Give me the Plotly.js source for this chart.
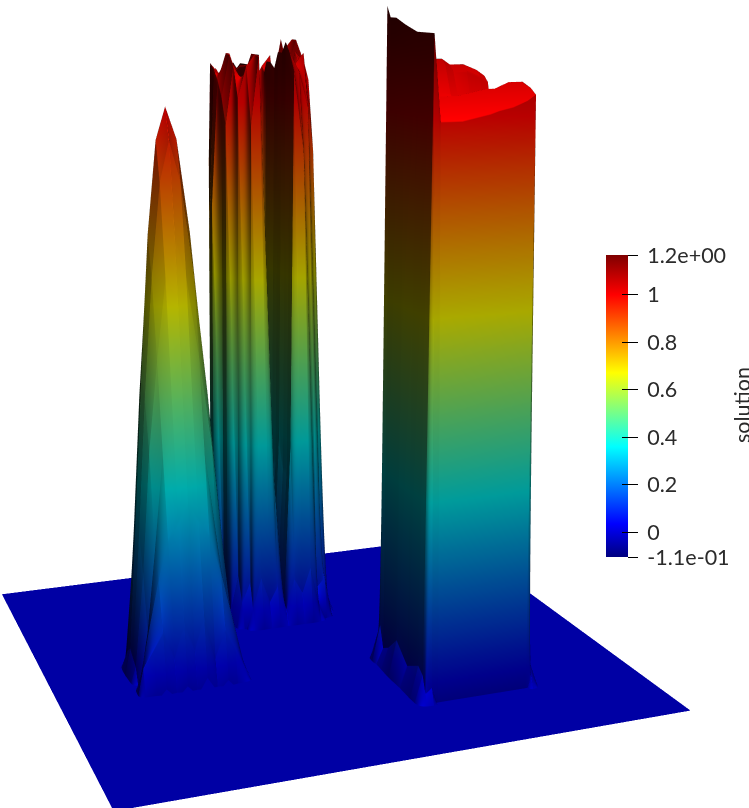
<!DOCTYPE html>
<html>
<head>
<meta charset="utf-8">
<script src="https://cdn.plot.ly/plotly-3.0.1.min.js"></script>
<style>
html,body{margin:0;padding:0;background:#fff;width:749px;height:808px;overflow:hidden}
#wrap{position:absolute;left:0;top:0;width:749px;height:808px;overflow:hidden}
#plot{position:absolute;left:-338px;top:-309px;width:1426px;height:1426px}
</style>
</head>
<body>
<div id="wrap"><div id="plot"></div></div>
<script>
const planeX = [0, 1];
const planeY = [0, 1];
const planeZ = [[0, 0], [0, 0]];

const coneX = [.134,.147,.166,.184,.203,.222,.24,.258,.277,.296,.314,.333,.346];
const coneY = [.39,.403,.423,.442,.461,.481,.50,.519,.539,.558,.577,.597,.61];
const coneZ = [
[-.01,-.01,-.01,.01,-.01,.01,-.01,.02,-.01,.01,-.01,-.01,-.01],
[-.01,.05,.08,.11,.06,.12,.07,.13,.05,.10,.06,.02,-.01],
[-.01,.03,.12,.20,.27,.30,.33,.30,.27,.20,.12,.03,-.01],
[-.01,-.01,.10,.25,.42,.51,.55,.51,.42,.25,.10,-.01,-.01],
[-.01,.03,.20,.42,.58,.72,.79,.72,.58,.42,.20,.02,-.01],
[-.01,.04,.27,.51,.72,.88,.95,.88,.72,.51,.27,.03,-.01],
[-.01,.05,.30,.55,.79,.95,1.005,.95,.79,.55,.30,.05,-.01],
[-.01,.04,.27,.51,.72,.88,.95,.88,.72,.51,.27,.03,-.01],
[-.01,.02,.20,.42,.58,.72,.79,.72,.58,.42,.20,.02,-.01],
[-.01,-.01,.06,.25,.42,.51,.55,.51,.42,.25,.06,-.01,-.01],
[-.01,-.01,.02,.06,.20,.27,.30,.27,.20,.06,.02,-.01,-.01],
[-.01,-.01,-.01,-.01,-.01,.03,.05,.03,-.01,-.01,-.01,-.01,-.01],
[-.01,-.01,-.01,-.01,-.01,-.01,-.01,-.01,-.01,-.01,-.01,-.01,-.01]
];

const cylX = [.372,.386,.402,.419,.436,.453,.469,.486,.503,.519,.536,.553,.57,.586,.60];
const cylY = [.619,.635,.65,.673,.696,.719,.742,.765,.788,.812,.827,.842,.858,.869,.881];
const cylZ = [
[-.01,-.01,-.01,-.01,-.01,-.01,-.01,-.01,-.01,-.01,-.01,-.01,-.01,-.01,-.01],
[-.01,-.01,-.01,.04,.10,.05,.08,.03,.09,.06,.11,.03,-.01,-.01,-.01],
[-.01,-.01,.05,.09,.95,1.08,.30,.02,.35,1.05,.90,.06,.08,-.01,-.01],
[-.01,.03,.10,1.00,1.06,1.08,.25,.03,.30,1.08,1.05,.98,.10,.02,-.01],
[-.01,.05,.95,1.06,1.03,1.08,.20,.02,.30,1.10,1.06,1.08,.90,.05,-.01],
[-.01,.07,1.00,1.08,1.00,1.06,.25,.03,.35,1.08,1.05,1.06,1.03,.08,-.01],
[-.01,.80,1.03,1.08,.88,1.06,.20,.02,.30,1.08,1.03,1.08,1.06,.75,-.01],
[-.01,.75,1.05,1.02,.82,1.06,.25,.03,.30,1.05,1.00,1.03,1.08,.70,-.01],
[-.01,.05,1.06,1.04,.95,1.05,.30,.02,.35,1.06,1.02,1.05,1.10,.06,-.01],
[-.01,.02,.88,1.05,.85,1.06,.35,.05,.40,1.06,1.00,1.08,1.10,.03,-.01],
[-.01,-.01,.10,1.00,.85,1.03,.85,.65,.85,1.04,1.02,1.10,.10,-.01,-.01],
[-.01,-.01,-.01,.06,.85,1.00,1.03,1.00,1.02,1.05,1.07,.05,-.01,-.01,-.01],
[-.01,-.01,-.01,-.01,.03,.88,.98,1.00,.98,.96,.03,-.01,-.01,-.01,-.01],
[-.01,-.01,-.01,-.01,-.01,-.01,.82,.88,.82,-.01,-.01,-.01,-.01,-.01,-.01],
[-.01,-.01,-.01,-.01,-.01,-.01,-.01,-.01,-.01,-.01,-.01,-.01,-.01,-.01,-.01]
];

const blockX = [.57,.588,.60,.612,.65,.70,.715,.74,.765,.78,.79,.81];
const blockY = [.175,.188,.20,.22,.27,.32,.36,.385,.40,.412,.43];
const blockZ = [
[-.01,-.01,-.01,-.01,-.01,-.01,-.01,-.01,-.01,-.01,-.01,-.01],
[-.01,.02,.03,-.01,-.01,-.01,-.01,-.01,-.01,-.01,.02,-.01],
[-.01,.05,1.13,.99,.99,1.00,1.005,1.01,1.02,1.03,.05,-.01],
[-.01,.06,1.13,1.03,1.03,1.04,1.04,1.05,1.05,1.04,.04,-.01],
[-.01,.04,1.13,1.03,1.01,1.01,1.01,1.01,1.01,1.01,.05,-.01],
[-.01,.07,1.14,1.03,1.01,1.00,1.00,.99,.98,.98,.02,-.01],
[-.01,.04,1.15,1.04,1.03,1.02,1.01,.99,.97,.96,.02,-.01],
[-.01,.03,1.15,1.08,1.07,1.07,1.06,1.06,1.05,1.04,.02,-.01],
[-.01,.07,1.168,1.08,1.08,1.08,1.07,1.07,1.06,1.05,.02,-.01],
[-.01,.05,-.01,-.01,-.01,-.01,-.01,-.01,-.01,-.01,-.01,-.01],
[-.01,-.01,-.01,-.01,-.01,-.01,-.01,-.01,-.01,-.01,-.01,-.01]
];

const scaleMin = -0.105;
const scaleMax = 1.168;
const jet = [[0,'#00007f'],[.11,'#0000ff'],[.365,'#00ffff'],[.61,'#ffff00'],[.868,'#ff0000'],[1,'#7f0000']];
const tickValues = [-0.105,0,0.2,0.4,0.6,0.8,1,1.168];
const tickLabels = ['\u00a0-1.1e-01','\u00a00','\u00a00.2','\u00a00.4','\u00a00.6','\u00a00.8','\u00a01','\u00a01.2e+00'];

const W = 1426;
const font = {family:'Lato, "Open Sans", sans-serif', size:21.5, color:'#2b2b2b'};
const light = {ambient:.12, diffuse:1, specular:0, roughness:1, fresnel:0};
const planeLight = {ambient:.74, diffuse:0, specular:0, roughness:1, fresnel:0};
const lightPos = {x:-2700, y:-8000, z:5500};
const barCommon = {x:944/W, xanchor:'left', xpad:0, ypad:0, y:1-564/W, yanchor:'top',
  thickness:22, thicknessmode:'pixels', len:302, lenmode:'pixels', outlinewidth:0,
  tickmode:'array', tickvals:tickValues, ticktext:tickLabels, tickcolor:'#000', tickwidth:1};

function surf(x,y,z,bar,lit){
  return {type:'surface',x:x,y:y,z:z,cmin:scaleMin,cmax:scaleMax,colorscale:jet,
    showscale:!!bar,colorbar:bar||undefined,lighting:lit||light,lightposition:lightPos,hoverinfo:'skip',
    contours:{x:{show:false},y:{show:false},z:{show:false}}};
}
const traces = [
  surf(planeX,planeY,planeZ,Object.assign({},barCommon,{ticks:'outside',ticklen:10,tickfont:font}),planeLight),
  surf(coneX,coneY,coneZ,Object.assign({},barCommon,{ticks:'inside',ticklen:6,showticklabels:false})),
  surf(cylX,cylY,cylZ),
  surf(blockX,blockY,blockZ)
];
const ax = r => ({visible:false,showgrid:false,zeroline:false,showticklabels:false,showbackground:false,showspikes:false,title:{text:''},range:r});
const layout = {
  width:W,height:W,margin:{l:0,r:0,t:0,b:0},paper_bgcolor:'#fff',showlegend:false,
  scene:{domain:{x:[0,1],y:[0,1]},
    xaxis:ax([0,1]),yaxis:ax([0,1]),zaxis:ax([scaleMin,scaleMax]),
    aspectmode:'manual',aspectratio:{x:1,y:1,z:1.273},
    camera:{eye:{x:-.993,y:-2.841,z:.69},center:{x:.084,y:-.084,z:-.051},up:{x:0,y:0,z:1},projection:{type:'perspective'}}},
  annotations:[{text:'solution',xref:'paper',yref:'paper',x:1080/W,y:1-714/W,xanchor:'center',yanchor:'middle',showarrow:false,textangle:-90,font:font}]
};
Plotly.newPlot('plot',traces,layout,{displayModeBar:false,staticPlot:false});
</script>
</body>
</html>
